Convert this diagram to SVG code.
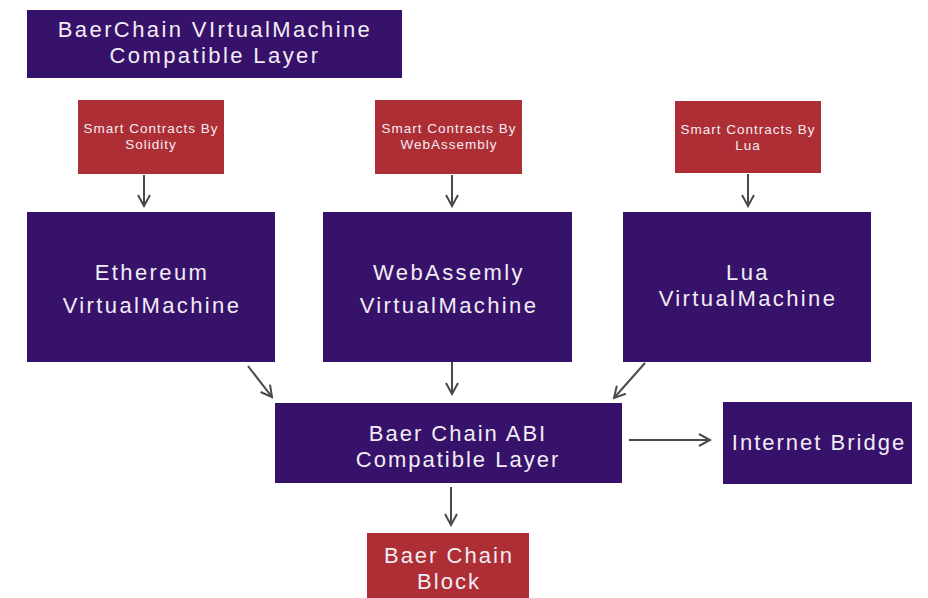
<svg xmlns="http://www.w3.org/2000/svg" width="928" height="598" viewBox="0 0 928 598">
<style>
.p{fill:#36126a}
.r{fill:#ae2e35}
.t{fill:#f2ecf4;font-family:"Liberation Sans",Arial,sans-serif;font-size:22px;text-anchor:middle;letter-spacing:2.4px}
.s{fill:#f2ecf4;font-family:"Liberation Sans",Arial,sans-serif;font-size:13.5px;text-anchor:middle;letter-spacing:1px}
.m{fill:#f2ecf4;font-family:"Liberation Sans",Arial,sans-serif;font-size:22px;text-anchor:middle;letter-spacing:2px}
.c{stroke:#4a4a4a;stroke-width:2;fill:none;marker-end:url(#a)}
</style>
<defs>
<marker id="a" viewBox="0 0 14 14" refX="12" refY="7" markerWidth="14" markerHeight="14" markerUnits="userSpaceOnUse" orient="auto">
<path d="M1,1 L12,7 L1,13" fill="none" stroke="#4a4a4a" stroke-width="2"/>
</marker>
</defs>
<rect width="928" height="598" fill="#fff"/>
<g id="title"><rect class="p" x="27" y="10" width="375" height="68"/>
<text class="t" x="215" y="37">BaerChain VIrtualMachine</text>
<text class="t" x="215" y="63">Compatible Layer</text></g>
<g id="sc-solidity"><rect class="r" x="78" y="100" width="146" height="74"/>
<text class="s" x="151" y="133">Smart Contracts By</text>
<text class="s" x="151" y="149">Solidity</text></g>
<g id="sc-wasm"><rect class="r" x="375" y="100" width="147" height="74"/>
<text class="s" x="449" y="133">Smart Contracts By</text>
<text class="s" x="449" y="149">WebAssembly</text></g>
<g id="sc-lua"><rect class="r" x="675" y="101" width="146" height="72"/>
<text class="s" x="748" y="134">Smart Contracts By</text>
<text class="s" x="748" y="150">Lua</text></g>
<g id="evm"><rect class="p" x="27" y="212" width="248" height="150"/>
<text class="t" x="152" y="280">Ethereum</text>
<text class="t" x="152" y="313">VirtualMachine</text></g>
<g id="wasmvm"><rect class="p" x="323" y="212" width="249" height="150"/>
<text class="t" x="449" y="280">WebAssemly</text>
<text class="t" x="449" y="313">VirtualMachine</text></g>
<g id="luavm"><rect class="p" x="623" y="212" width="248" height="150"/>
<text class="t" x="748" y="280">Lua</text>
<text class="t" x="748" y="306">VirtualMachine</text></g>
<g id="abi"><rect class="p" x="275" y="403" width="347" height="80"/>
<text class="m" x="458" y="441">Baer Chain ABI</text>
<text class="m" x="458" y="467">Compatible Layer</text></g>
<g id="bridge"><rect class="p" x="723" y="402" width="189" height="82"/>
<text class="m" x="819" y="450">Internet Bridge</text></g>
<g id="block"><rect class="r" x="367" y="533" width="162" height="65"/>
<text class="m" x="449" y="563">Baer Chain</text>
<text class="m" x="449" y="589">Block</text></g>
<g id="connectors">
<line class="c" x1="144" y1="175" x2="144" y2="206"/>
<line class="c" x1="452" y1="175" x2="452" y2="206"/>
<line class="c" x1="748" y1="174" x2="748" y2="206"/>
<line class="c" x1="248" y1="366" x2="272" y2="397"/>
<line class="c" x1="452" y1="362" x2="452" y2="394"/>
<line class="c" x1="645" y1="363" x2="614" y2="398"/>
<line class="c" x1="629" y1="440" x2="710" y2="440"/>
<line class="c" x1="451" y1="487" x2="451" y2="525"/>
</g>
</svg>
